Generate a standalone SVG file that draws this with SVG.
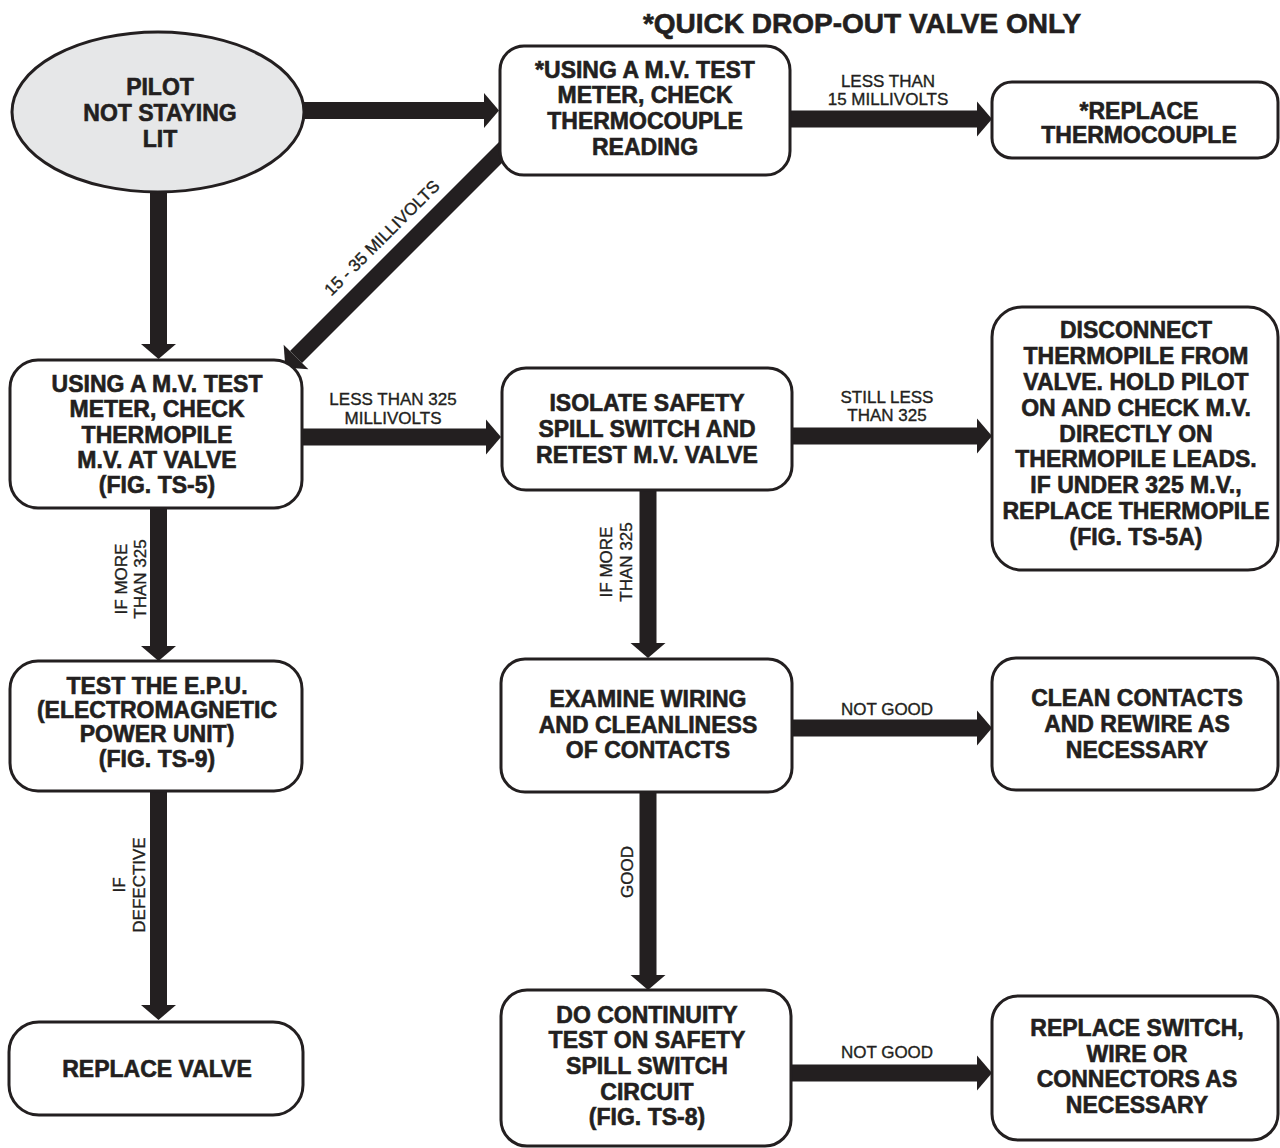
<svg xmlns="http://www.w3.org/2000/svg" width="1280" height="1148" viewBox="0 0 1280 1148">
<style>
  .box{fill:#ffffff;stroke:#231f20;stroke-width:3}
  .oval{fill:#e6e7e8;stroke:#231f20;stroke-width:3}
  .t{font-family:"Liberation Sans",Arial,sans-serif;font-weight:bold;font-size:23px;fill:#231f20;stroke:#231f20;stroke-width:0.6;text-anchor:middle}
  .title{font-family:"Liberation Sans",Arial,sans-serif;font-weight:bold;font-size:28px;fill:#231f20;stroke:#231f20;stroke-width:0.6;text-anchor:middle}
  .lbl{font-family:"Liberation Sans",Arial,sans-serif;font-size:17px;fill:#231f20;stroke:#231f20;stroke-width:0.35;text-anchor:middle}
  .arr{stroke:#231f20;stroke-width:17;fill:none;marker-end:url(#head)}
</style>
<defs>
  <marker id="head" markerUnits="userSpaceOnUse" markerWidth="16" markerHeight="36" refX="0" refY="17.5" orient="auto" overflow="visible">
    <path d="M0,0 L15,17.5 L0,35 Z" fill="#231f20"/>
  </marker>
</defs>
<rect width="1280" height="1148" fill="#ffffff"/>

<text class="title" x="862" y="33">*QUICK DROP-OUT VALVE ONLY</text>

<g id="connectors">
  <line class="arr" x1="290" y1="110.5" x2="484" y2="110.5"/>
  <line class="arr" x1="158.5" y1="185" x2="158.5" y2="344"/>
  <line class="arr" x1="785" y1="119" x2="977" y2="119"/>
  <line class="arr" x1="512" y1="141" x2="296" y2="357"/>
  <line class="arr" x1="300" y1="437" x2="486" y2="437"/>
  <line class="arr" x1="790" y1="436" x2="977" y2="436"/>
  <line class="arr" x1="158.5" y1="505" x2="158.5" y2="646"/>
  <line class="arr" x1="648" y1="488" x2="648" y2="643"/>
  <line class="arr" x1="158.5" y1="788" x2="158.5" y2="1005"/>
  <line class="arr" x1="790" y1="728" x2="977" y2="728"/>
  <line class="arr" x1="648" y1="790" x2="648" y2="975"/>
  <line class="arr" x1="789" y1="1073" x2="977" y2="1073"/>
  <g id="connector-labels">
    <text class="lbl"><tspan x="888" y="87">LESS THAN</tspan><tspan x="888" y="105">15 MILLIVOLTS</tspan></text>
    <text class="lbl" transform="translate(386,242) rotate(-45)">15 - 35 MILLIVOLTS</text>
    <text class="lbl"><tspan x="393" y="405">LESS THAN 325</tspan><tspan x="393" y="424">MILLIVOLTS</tspan></text>
    <text class="lbl"><tspan x="887" y="403">STILL LESS</tspan><tspan x="887" y="421">THAN 325</tspan></text>
    <text class="lbl" transform="translate(127,579) rotate(-90)">IF MORE</text>
    <text class="lbl" transform="translate(146,579) rotate(-90)">THAN 325</text>
    <text class="lbl" transform="translate(612,562) rotate(-90)">IF MORE</text>
    <text class="lbl" transform="translate(632,562) rotate(-90)">THAN 325</text>
    <text class="lbl" transform="translate(125,885) rotate(-90)">IF</text>
    <text class="lbl" transform="translate(145,885) rotate(-90)">DEFECTIVE</text>
    <text class="lbl" transform="translate(633,872) rotate(-90)">GOOD</text>
    <text class="lbl" x="887" y="715">NOT GOOD</text>
    <text class="lbl" x="887" y="1058">NOT GOOD</text>
  </g>
</g>

<g id="pilot-not-staying-lit">
  <ellipse class="oval" cx="158" cy="112" rx="146" ry="80"/>
  <text class="t"><tspan x="160" y="95">PILOT</tspan><tspan x="160" y="121">NOT STAYING</tspan><tspan x="160" y="147">LIT</tspan></text>
</g>

<g id="check-thermocouple">
  <rect class="box" x="500" y="46" width="290" height="129" rx="24"/>
  <text class="t"><tspan x="645" y="78">*USING A M.V. TEST</tspan><tspan x="645" y="103">METER, CHECK</tspan><tspan x="645" y="129">THERMOCOUPLE</tspan><tspan x="645" y="155">READING</tspan></text>
</g>

<g id="replace-thermocouple">
  <rect class="box" x="992" y="82" width="286" height="76" rx="20"/>
  <text class="t"><tspan x="1139" y="119">*REPLACE</tspan><tspan x="1139" y="143">THERMOCOUPLE</tspan></text>
</g>

<g id="check-thermopile">
  <rect class="box" x="10" y="360" width="292" height="148" rx="28"/>
  <text class="t"><tspan x="157" y="392">USING A M.V. TEST</tspan><tspan x="157" y="417">METER, CHECK</tspan><tspan x="157" y="443">THERMOPILE</tspan><tspan x="157" y="468">M.V. AT VALVE</tspan><tspan x="157" y="493">(FIG. TS-5)</tspan></text>
</g>

<g id="isolate-safety-spill">
  <rect class="box" x="502" y="368" width="290" height="122" rx="24"/>
  <text class="t"><tspan x="647" y="411">ISOLATE SAFETY</tspan><tspan x="647" y="437">SPILL SWITCH AND</tspan><tspan x="647" y="463">RETEST M.V. VALVE</tspan></text>
</g>

<g id="disconnect-thermopile">
  <rect class="box" x="992" y="307" width="286" height="263" rx="30"/>
  <text class="t"><tspan x="1136" y="338">DISCONNECT</tspan><tspan x="1136" y="364">THERMOPILE FROM</tspan><tspan x="1136" y="390">VALVE. HOLD PILOT</tspan><tspan x="1136" y="416">ON AND CHECK M.V.</tspan><tspan x="1136" y="442">DIRECTLY ON</tspan><tspan x="1136" y="467">THERMOPILE LEADS.</tspan><tspan x="1136" y="493">IF UNDER 325 M.V.,</tspan><tspan x="1136" y="519">REPLACE THERMOPILE</tspan><tspan x="1136" y="545">(FIG. TS-5A)</tspan></text>
</g>

<g id="test-epu">
  <rect class="box" x="10" y="661" width="292" height="130" rx="28"/>
  <text class="t"><tspan x="157" y="694">TEST THE E.P.U.</tspan><tspan x="157" y="718">(ELECTROMAGNETIC</tspan><tspan x="157" y="742">POWER UNIT)</tspan><tspan x="157" y="767">(FIG. TS-9)</tspan></text>
</g>

<g id="replace-valve">
  <rect class="box" x="9" y="1022" width="294" height="93" rx="30"/>
  <text class="t" x="157" y="1077">REPLACE VALVE</text>
</g>

<g id="examine-wiring">
  <rect class="box" x="501" y="659" width="291" height="133" rx="24"/>
  <text class="t"><tspan x="648" y="707">EXAMINE WIRING</tspan><tspan x="648" y="733">AND CLEANLINESS</tspan><tspan x="648" y="758">OF CONTACTS</tspan></text>
</g>

<g id="clean-contacts">
  <rect class="box" x="992" y="658" width="286" height="132" rx="24"/>
  <text class="t"><tspan x="1137" y="706">CLEAN CONTACTS</tspan><tspan x="1137" y="732">AND REWIRE AS</tspan><tspan x="1137" y="758">NECESSARY</tspan></text>
</g>

<g id="continuity-test">
  <rect class="box" x="501" y="990" width="290" height="156" rx="26"/>
  <text class="t"><tspan x="647" y="1023">DO CONTINUITY</tspan><tspan x="647" y="1048">TEST ON SAFETY</tspan><tspan x="647" y="1074">SPILL SWITCH</tspan><tspan x="647" y="1100">CIRCUIT</tspan><tspan x="647" y="1125">(FIG. TS-8)</tspan></text>
</g>

<g id="replace-switch">
  <rect class="box" x="992" y="996" width="286" height="144" rx="26"/>
  <text class="t"><tspan x="1137" y="1036">REPLACE SWITCH,</tspan><tspan x="1137" y="1062">WIRE OR</tspan><tspan x="1137" y="1087">CONNECTORS AS</tspan><tspan x="1137" y="1113">NECESSARY</tspan></text>
</g>
</svg>
